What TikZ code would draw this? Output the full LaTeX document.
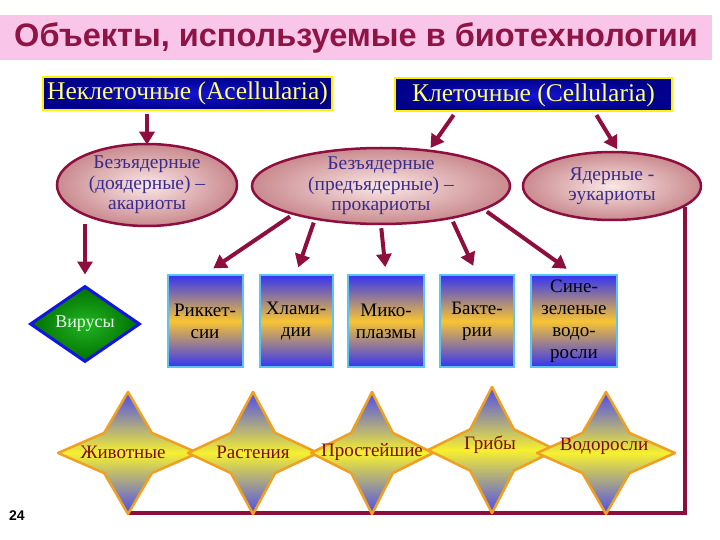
\documentclass[tikz,border=0pt]{standalone}
\usepackage{fontspec}
\setmainfont{Liberation Serif}
\setsansfont{Liberation Sans}
\usetikzlibrary{shapes.geometric,arrows.meta,calc}
\definecolor{vinous}{HTML}{8E0E3E}
\definecolor{bandpink}{HTML}{F9C6EA}
\definecolor{titlered}{HTML}{8E1446}
\definecolor{navyin}{HTML}{1414D2}
\definecolor{navyout}{HTML}{00008A}
\definecolor{paleyel}{HTML}{FFFF78}
\definecolor{rosein}{HTML}{FBE6E6}
\definecolor{roseout}{HTML}{C98A8E}
\definecolor{inkblue}{HTML}{3A2C8C}
\definecolor{boxblue}{HTML}{3434F4}
\definecolor{boxgold}{HTML}{F8C432}
\definecolor{boxedge}{HTML}{5CC4F2}
\definecolor{stblue}{HTML}{4A4AF0}
\definecolor{styel}{HTML}{F6F030}
\definecolor{stedge}{HTML}{F0A020}
\definecolor{sttext}{HTML}{7A0C0C}
\definecolor{virin}{HTML}{22B422}
\definecolor{virout}{HTML}{007000}
\definecolor{viredge}{HTML}{1414E0}
\newcommand{\zvezda}[4]{%
  \shade[draw=stedge, line width=2.5pt, line join=round,
    top color=stblue, bottom color=stblue, middle color=styel]
    (#1,#2-#4) -- (#1+0.34*#3,#2-0.33*#4) -- (#1+#3,#2) -- (#1+0.34*#3,#2+0.33*#4)
    -- (#1,#2+#4) -- (#1-0.34*#3,#2+0.33*#4) -- (#1-#3,#2) -- (#1-0.34*#3,#2-0.33*#4) -- cycle;}
\begin{document}
\begin{tikzpicture}[x=1pt,y=-1pt,
    titlebar/.style={fill=bandpink, minimum width=712pt, minimum height=45pt, inner sep=0pt,
      text=titlered, font=\sffamily\bfseries\fontsize{32.5}{32.5}\selectfont},
    topbox/.style={draw=yellow, line width=2pt, inner color=navyin, outer color=navyout,
      text=paleyel, minimum height=33pt, inner sep=0pt, font=\rmfamily\fontsize{25.5}{27}\selectfont},
    ell/.style={ellipse, draw=vinous, line width=2.5pt, inner color=rosein, outer color=roseout,
      text=inkblue, align=center, inner xsep=0pt, inner ysep=-8pt,
      font=\rmfamily\fontsize{19.5}{20.5}\selectfont},
    grp/.style={rectangle, draw=boxedge, line width=2pt, top color=boxblue, bottom color=boxblue,
      middle color=boxgold, minimum height=92pt, inner sep=0pt, align=center, text=black,
      font=\rmfamily\fontsize{19}{22}\selectfont},
    startext/.style={text=sttext, inner sep=0pt, font=\rmfamily\fontsize{19}{19}\selectfont},
    arr/.style={vinous, line width=4pt, -{Triangle[length=13pt,width=15pt]}, shorten <=3pt},
    brk/.style={vinous, line width=4pt}]
\useasboundingbox (0,0) rectangle (720,540);
% title
\node[titlebar] (ttl) at (356,37.5) {Объекты, используемые в биотехнологии};
% top level
\node[topbox, minimum width=289pt] (acell) at (187.5,93.5) {Неклеточные (Acellularia)};
\node[topbox, minimum width=277pt] (cell) at (533.5,95) {Клеточные (Cellularia)};
% second level
\node[ell, minimum width=180pt, minimum height=82pt] (ell1) at (147,185)
  {Безъядерные\\(доядерные) –\\акариоты};
\node[ell, minimum width=258pt, minimum height=76pt] (ell2) at (381,186)
  {Безъядерные\\(предъядерные) –\\прокариоты};
\node[ell, minimum width=178pt, minimum height=68pt] (ell3) at (612,186)
  {Ядерные -\\эукариоты};
\draw[arr, shorten >=-2pt] (acell.south -| ell1.north) -- (ell1.north);
\draw[arr, shorten >=2pt] ($(cell.south west)!0.22!(cell.south east)$) -- (ell2.37);
\draw[arr, shorten >=2pt] ($(cell.south west)!0.72!(cell.south east)$) -- (ell3.80);
% prokaryotes
\node[grp, minimum width=75pt] (bx1) at (205,321) {Риккет-\\сии};
\node[grp, minimum width=73pt] (bx2) at (296,321) {Хлами-\\дии};
\node[grp, minimum width=76pt] (bx3) at (386,321) {Мико-\\плазмы};
\node[grp, minimum width=74pt] (bx4) at (477,321) {Бакте-\\рии};
\node[grp, minimum width=86pt] (bx5) at (574,321) {Сине-\\зеленые\\водо-\\росли};
\node[diamond, draw=viredge, line width=3pt, inner color=virin, outer color=virout,
  minimum width=110pt, minimum height=76pt, inner sep=0pt, aspect=1.45,
  text=green!10!white, font=\rmfamily\fontsize{18}{18}\selectfont] (vir) at (85,324) {Вирусы};
\draw[arr, shorten <=-3pt, shorten >=10pt] (vir.north |- ell1.south) -- (vir.north);
\draw[arr, shorten >=10pt] (ell2.198) -- (bx1.north);
\draw[arr, shorten >=7pt] (ell2.207) -- (bx2.north);
\draw[arr, shorten >=7pt] (ell2.south) -- (bx3.north);
\draw[arr, shorten >=9pt] (ell2.335) -- (bx4.north);
\draw[arr, shorten >=9pt] (ell2.347) -- (bx5.north);
% eukaryotes
\coordinate (cornr) at (128,513);
\draw[brk] (ell3.344) |- (cornr);
\zvezda{128}{453}{70}{61}
\zvezda{253}{453}{65}{61}
\zvezda{372}{453}{61}{61}
\zvezda{492}{450}{64}{63}
\zvezda{606}{453}{69}{61}
\node[startext] (st1) at (123,452) {Животные};
\node[startext] (st2) at (253,452) {Растения};
\node[startext] (st3) at (372,452) {Простейшие};
\node[startext] (st4) at (490,445) {Грибы};
\node[startext] (st5) at (604,446) {Водоросли};
\node[font=\sffamily\bfseries\fontsize{14}{14}\selectfont, inner sep=0pt] (pgnum) at (17,516) {24};
\end{tikzpicture}
\end{document}
